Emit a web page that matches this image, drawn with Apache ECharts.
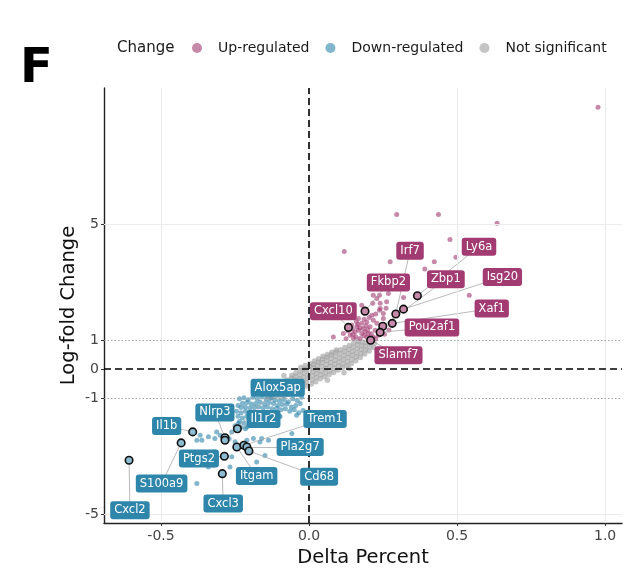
<!DOCTYPE html>
<html>
<head>
<meta charset="utf-8">
<script src="https://cdn.jsdelivr.net/npm/echarts@6/dist/echarts.min.js"></script>
<style>
  html, body { margin: 0; padding: 0; background: #fff; }
  #chart { width: 640px; height: 581px; }
</style>
</head>
<body>
<div id="chart"></div>
<script>
// Axis ticks
const xTicks = [-0.5, 0, 0.5, 1.0];
const yTicks = [-5, -1, 0, 1, 5];

// Not significant genes: [delta percent, log-fold change]
const nsPoints = [
  [-0.142,-0.94],[-0.138,-0.84],[-0.127,-0.99],[-0.124,-0.86],[-0.121,-0.75],
  [-0.112,-0.93],[-0.109,-0.81],[-0.107,-0.69],[-0.104,-0.60],
  [-0.097,-0.95],[-0.094,-0.79],[-0.092,-0.66],[-0.090,-0.53],
  [-0.082,-0.91],[-0.080,-0.77],[-0.078,-0.63],[-0.077,-0.49],[-0.075,-0.37],
  [-0.067,-0.87],[-0.066,-0.73],[-0.063,-0.57],[-0.062,-0.45],[-0.060,-0.31],[-0.058,-0.21],
  [-0.052,-0.82],[-0.050,-0.67],[-0.049,-0.53],[-0.047,-0.38],[-0.046,-0.25],[-0.044,-0.12],
  [-0.037,-0.75],[-0.035,-0.61],[-0.034,-0.47],[-0.032,-0.33],[-0.031,-0.19],[-0.029,-0.05],[-0.028,0.06],
  [-0.022,-0.69],[-0.021,-0.55],[-0.019,-0.41],[-0.018,-0.27],[-0.016,-0.13],[-0.015,0.01],[-0.013,0.13],
  [-0.007,-0.58],[-0.005,-0.45],[-0.004,-0.31],[-0.002,-0.17],[0.000,-0.03],[0.002,0.09],[0.003,0.20],
  [0.008,-0.51],[0.010,-0.37],[0.012,-0.23],[0.013,-0.09],[0.015,0.05],[0.016,0.17],[0.018,0.28],
  [0.023,-0.43],[0.025,-0.29],[0.026,-0.15],[0.028,-0.01],[0.029,0.13],[0.031,0.25],[0.032,0.36],
  [0.038,-0.33],[0.040,-0.19],[0.041,-0.05],[0.043,0.09],[0.044,0.23],[0.046,0.35],[0.047,0.45],
  [0.053,-0.26],[0.055,-0.12],[0.056,0.02],[0.058,0.16],[0.059,0.30],[0.061,0.42],[0.062,0.51],
  [0.068,-0.19],[0.070,-0.05],[0.071,0.09],[0.073,0.23],[0.074,0.37],[0.076,0.50],[0.077,0.58],
  [0.083,-0.11],[0.085,0.03],[0.086,0.17],[0.088,0.31],[0.089,0.45],[0.091,0.59],[0.092,0.66],
  [0.098,-0.03],[0.100,0.11],[0.101,0.25],[0.103,0.39],[0.104,0.53],[0.106,0.67],
  [0.113,0.05],[0.115,0.19],[0.116,0.33],[0.118,0.47],[0.119,0.61],[0.121,0.75],
  [0.128,0.12],[0.130,0.26],[0.131,0.40],[0.133,0.54],[0.134,0.68],[0.136,0.82],
  [0.143,0.20],[0.145,0.34],[0.146,0.48],[0.148,0.62],[0.149,0.76],[0.151,0.90],
  [0.158,0.29],[0.160,0.43],[0.161,0.57],[0.163,0.71],[0.164,0.85],[0.166,0.97],
  [0.173,0.40],[0.175,0.54],[0.176,0.68],[0.178,0.82],[0.179,0.94],
  [0.188,0.52],[0.190,0.66],[0.191,0.80],[0.193,0.93],
  [0.203,0.63],[0.205,0.77],[0.207,0.91],
  [0.218,0.75],[0.221,0.89],
  [0.118,-0.12],[0.135,0.02],[-0.085,-0.22],[0.062,-0.38]
];

// Up-regulated genes
const upPoints = [
  [0.296,5.33],[0.437,5.33],[0.635,5.03],[0.976,9.03],[0.119,4.06],[0.476,4.47],
  [0.496,3.86],[0.274,3.70],[0.423,3.70],[0.391,3.45],[0.541,2.55],[0.319,2.47],
  [0.268,2.61],[0.082,1.11],
  [0.217,2.55],[0.238,2.55],[0.229,2.44],[0.215,2.27],[0.240,2.27],[0.262,2.32],
  [0.238,2.03],[0.251,1.92],[0.212,1.86],[0.167,1.75],[0.195,1.63],[0.217,1.69],
  [0.251,1.75],[0.178,1.58],[0.161,1.46],[0.183,1.40],[0.206,1.46],[0.155,1.29],
  [0.178,1.23],[0.200,1.23],[0.223,1.34],[0.139,1.17],[0.172,1.06],[0.195,1.11],
  [0.217,1.11],[0.150,1.06],[0.116,1.23],[0.144,1.52],[0.167,1.34],[0.189,1.29],
  [0.234,1.17],[0.229,1.58],[0.178,2.20],[0.240,2.09],
  [0.125,1.05],[0.132,1.32],[0.148,1.20],[0.158,1.12],[0.165,1.55],[0.172,1.42],
  [0.185,1.15],[0.192,1.50],[0.198,1.36],[0.205,1.08],[0.210,1.22],[0.225,1.05],
  [0.186,1.72],[0.203,1.78],[0.225,1.90],[0.260,2.10],[0.270,1.35],[0.255,1.20],
  [0.146,1.38],[0.160,1.64]
];

// Down-regulated genes
const downPoints = [
  [-0.235,-1.02],[-0.220,-0.98],[-0.205,-1.05],[-0.190,-0.97],[-0.175,-1.03],[-0.160,-0.96],
  [-0.145,-1.04],[-0.130,-0.99],[-0.115,-1.06],[-0.100,-1.10],[-0.085,-1.05],[-0.070,-1.12],
  [-0.055,-1.02],[-0.040,-1.08],[-0.025,-0.97],[-0.030,-1.18],[-0.045,-1.25],[-0.060,-1.30],
  [-0.075,-1.20],[-0.090,-1.22],[-0.105,-1.25],[-0.120,-1.18],[-0.135,-1.15],[-0.150,-1.20],
  [-0.165,-1.14],[-0.180,-1.18],[-0.195,-1.20],[-0.210,-1.15],[-0.225,-1.17],[-0.240,-1.25],
  [-0.230,-1.32],[-0.215,-1.30],[-0.200,-1.35],[-0.185,-1.32],[-0.170,-1.30],[-0.155,-1.34],
  [-0.140,-1.30],[-0.125,-1.36],[-0.110,-1.35],[-0.095,-1.40],[-0.080,-1.36],[-0.065,-1.45],
  [-0.050,-1.40],[-0.035,-1.50],[-0.020,-1.42],
  [-0.245,-1.45],[-0.230,-1.50],[-0.215,-1.45],[-0.200,-1.52],[-0.185,-1.48],[-0.170,-1.55],
  [-0.155,-1.50],[-0.140,-1.58],[-0.120,-1.55],[-0.100,-1.60],[-0.240,-1.62],[-0.225,-1.68],
  [-0.210,-1.62],[-0.195,-1.70],[-0.180,-1.66],[-0.165,-1.72],[-0.235,-1.80],[-0.220,-1.85],
  [-0.200,-1.82],[-0.185,-1.90],[-0.250,-1.95],[-0.230,-2.00],[-0.215,-2.05],
  [-0.379,-2.45],[-0.368,-2.28],[-0.340,-2.33],[-0.318,-2.39],[-0.340,-3.37],[-0.379,-3.94],
  [-0.318,-2.85],[-0.261,-3.02],[-0.267,-3.37],[-0.058,-2.22],[-0.137,-2.45],[-0.166,-2.51],
  [-0.188,-2.39],[-0.261,-2.16],[-0.312,-2.16],[-0.239,-1.87],[-0.210,-1.99],[-0.177,-1.93],
  [-0.143,-1.82],[-0.098,-1.64],[-0.042,-1.59],
  [-0.300,-2.28],[-0.270,-2.40],[-0.250,-2.50],[-0.362,-2.45],[-0.323,-2.85],[-0.323,-3.31],
  [-0.199,-2.85],[-0.177,-3.20],[-0.149,-2.97],[-0.210,-2.45],[-0.160,-2.39]
];

// Highlighted genes: name, value, label anchor
const upGenes   = ['Cxcl10','Fkbp2','Irf7','Ly6a','Isg20','Zbp1','Xaf1','Pou2af1','Slamf7'];
const upGeneXY  = [[0.133,1.44],[0.189,2.00],[0.293,1.90],[0.366,2.53],[0.319,2.07],[0.249,1.48],[0.281,1.58],[0.240,1.27],[0.208,1.00]];
const upLabelXY = [[0.082,2.00],[0.268,2.99],[0.341,4.08],[0.574,4.22],[0.653,3.18],[0.462,3.10],[0.617,2.09],[0.415,1.44],[0.302,0.48]];

const downGenes   = ['Cxcl2','S100a9','Il1b','Cxcl3','Ptgs2','Itgam','Nlrp3','Alox5ap','Il1r2','Trem1','Pla2g7','Cd68'];
const downGeneXY  = [[-0.608,-3.14],[-0.432,-2.54],[-0.393,-2.16],[-0.293,-3.60],[-0.286,-3.00],[-0.244,-2.68],[-0.284,-2.36],[-0.284,-2.45],[-0.242,-2.05],[-0.220,-2.62],[-0.210,-2.68],[-0.203,-2.82]];
const downLabelXY = [[-0.605,-4.86],[-0.498,-3.94],[-0.481,-1.96],[-0.290,-4.63],[-0.372,-3.08],[-0.177,-3.68],[-0.318,-1.49],[-0.106,-0.64],[-0.154,-1.72],[0.054,-1.72],[-0.030,-2.68],[0.034,-3.71]];

const FONT = 'DejaVu Sans';
const UP = '#A23B72', DOWN = '#2E86AB';

const chart = echarts.init(document.getElementById('chart'), null, { renderer: 'canvas' });

function connectors(genesXY, labelsXY) {
  return genesXY.map((p, i) => ({ coords: [labelsXY[i], p] }));
}
function labelData(names, labelsXY) {
  return names.map((n, i) => ({ name: n, value: labelsXY[i] }));
}
function labelSeries(names, labelsXY, bg) {
  return {
    type: 'scatter', z: 6, silent: true,
    symbolSize: 1, itemStyle: { color: 'rgba(0,0,0,0)', opacity: 1 },
    data: labelData(names, labelsXY),
    label: {
      show: true, position: 'inside', formatter: '{b}',
      color: '#fff', fontFamily: FONT, fontSize: 11.5, opacity: 1,
      backgroundColor: bg, padding: [3, 4, 3, 4], borderRadius: 3
    }
  };
}

chart.setOption({
  animation: false,
  backgroundColor: '#fff',
  grid: { left: 104, top: 88, width: 518, height: 435, containLabel: false },
  legend: {
    data: ['Up-regulated', 'Down-regulated', 'Not significant'],
    left: 192, top: 41, padding: 0,
    icon: 'circle', itemWidth: 10, itemHeight: 10, itemGap: 16,
    textStyle: { fontFamily: FONT, fontSize: 14, color: '#1a1a1a', padding: [0, 0, 0, 11] }
  },
  graphic: [
    { type: 'text', left: 117, top: 41, style: { text: 'Change', font: '15px "DejaVu Sans"', fill: '#1a1a1a' } },
    { type: 'text', left: 20, top: 46, style: { text: 'F', font: 'bold 48px "DejaVu Sans"', fill: '#000' } }
  ],
  xAxis: {
    type: 'value', min: -0.6926, max: 1.057,
    splitLine: { show: false },
    axisLine: { onZero: false, lineStyle: { color: '#222', width: 1.4 } },
    axisTick: { customValues: xTicks, length: 3, lineStyle: { color: '#333' } },
    axisLabel: { customValues: xTicks, formatter: v => v.toFixed(1), fontFamily: FONT, fontSize: 14, color: '#444', margin: 6 },
    name: 'Delta Percent', nameLocation: 'middle', nameGap: 23,
    nameTextStyle: { fontFamily: FONT, fontSize: 19.5, color: '#111' }
  },
  yAxis: {
    type: 'value', min: -5.30, max: 9.69,
    splitLine: { show: false },
    axisLine: { onZero: false, lineStyle: { color: '#222', width: 1.4 } },
    axisTick: { customValues: yTicks, length: 3, lineStyle: { color: '#333' } },
    axisLabel: { customValues: yTicks, formatter: v => String(v), fontFamily: FONT, fontSize: 14, color: '#444', margin: 5 },
    name: 'Log-fold Change', nameLocation: 'middle', nameGap: 25, nameRotate: 90, nameMoveOverlap: false,
    nameTextStyle: { fontFamily: FONT, fontSize: 19.5, color: '#111' }
  },
  series: [
    { // background grid lines
      type: 'scatter', z: 0, silent: true, data: [],
      markLine: {
        silent: true, symbol: ['none', 'none'], label: { show: false },
        lineStyle: { color: '#EBEBEB', width: 1, type: 'solid' },
        data: [
          ...xTicks.map(v => ({ xAxis: v })),
          { yAxis: 5 }, { yAxis: -5 }
        ]
      }
    },
    {
      name: 'Not significant', type: 'scatter', z: 2, symbolSize: 5.5,
      itemStyle: { color: 'rgba(160,160,160,0.62)', opacity: 1 }, data: nsPoints
    },
    {
      name: 'Down-regulated', type: 'scatter', z: 2, symbolSize: 5,
      itemStyle: { color: 'rgba(46,134,171,0.6)', opacity: 1 }, data: downPoints
    },
    {
      name: 'Up-regulated', type: 'scatter', z: 2, symbolSize: 5,
      itemStyle: { color: 'rgba(162,59,114,0.6)', opacity: 1 }, data: upPoints
    },
    { // threshold and zero lines
      type: 'scatter', z: 3, silent: true, data: [],
      markLine: {
        silent: true, symbol: ['none', 'none'], label: { show: false },
        data: [
          { yAxis: 1, lineStyle: { color: '#999', width: 0.9, type: [1.5, 2] } },
          { yAxis: -1, lineStyle: { color: '#999', width: 0.9, type: [1.5, 2] } },
          { yAxis: 0, lineStyle: { color: '#000', width: 1.6, type: [7, 4] } },
          { xAxis: 0, lineStyle: { color: '#000', width: 1.6, type: [7, 4] } }
        ]
      }
    },
    {
      type: 'lines', coordinateSystem: 'cartesian2d', z: 4, silent: true,
      lineStyle: { color: '#A8A8A8', width: 0.8, opacity: 1 },
      data: connectors(upGeneXY, upLabelXY).concat(connectors(downGeneXY, downLabelXY))
    },
    {
      type: 'scatter', z: 5, symbolSize: 7.5, silent: true,
      itemStyle: { color: '#C789AA', borderColor: '#111', borderWidth: 1.6, opacity: 1 },
      data: upGeneXY
    },
    {
      type: 'scatter', z: 5, symbolSize: 7.5, silent: true,
      itemStyle: { color: '#8CBCD2', borderColor: '#111', borderWidth: 1.6, opacity: 1 },
      data: downGeneXY
    },
    labelSeries(upGenes, upLabelXY, UP),
    labelSeries(downGenes, downLabelXY, DOWN)
  ]
});
</script>
</body>
</html>
